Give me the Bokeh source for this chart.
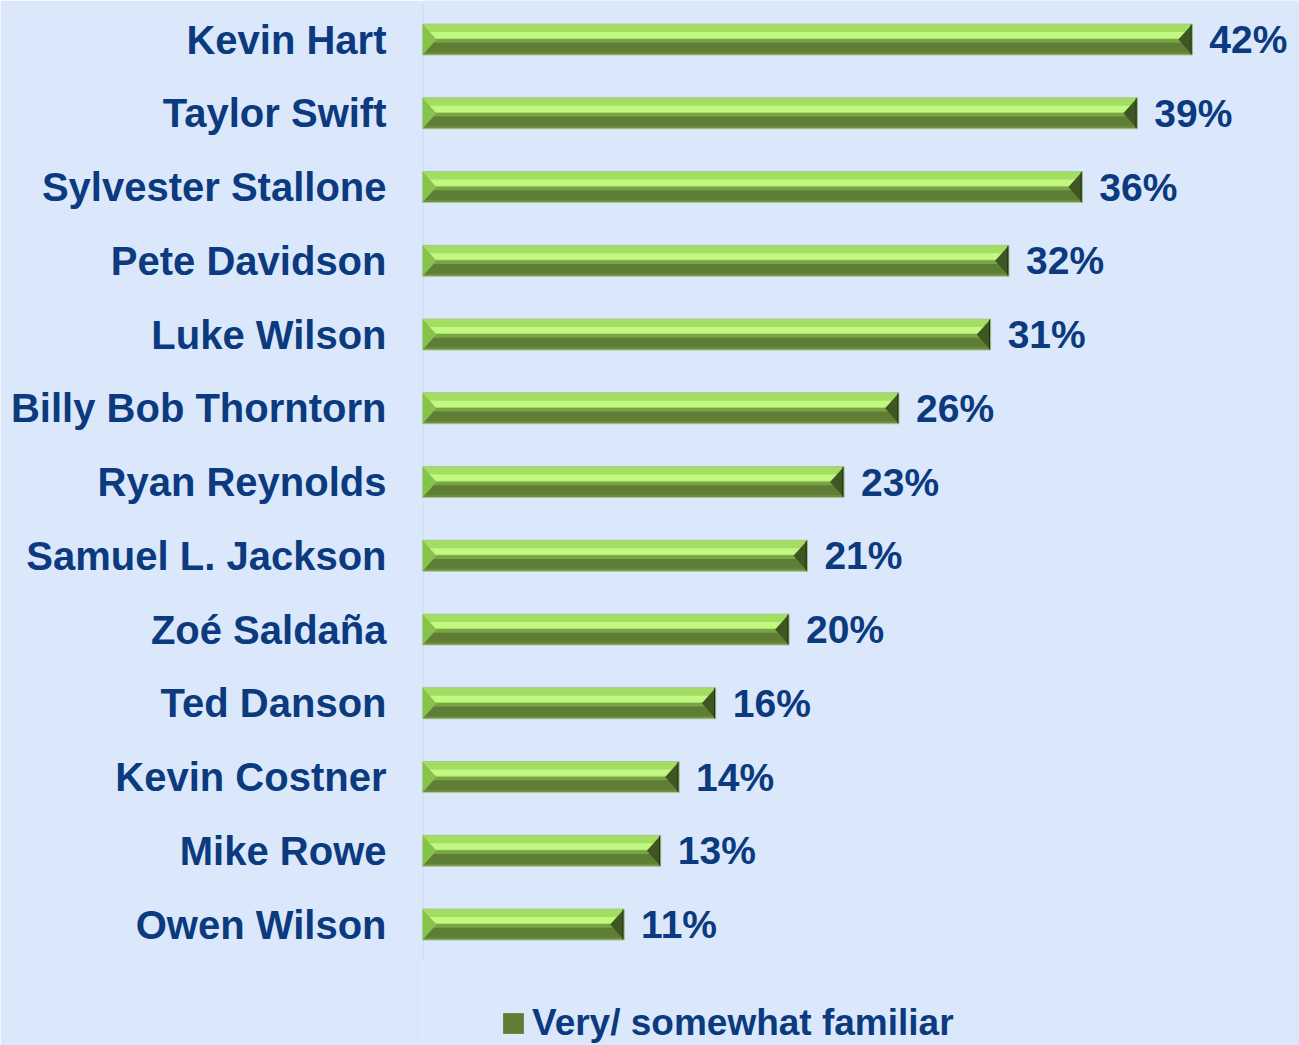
from bokeh.plotting import figure
from bokeh.models import Range1d, FixedTicker, Legend, LegendItem, ColumnDataSource
from bokeh.core.properties import value
from bokeh.embed import file_html
from bokeh.resources import INLINE

# ---- data ----
names = ["Kevin Hart", "Taylor Swift", "Sylvester Stallone", "Pete Davidson",
         "Luke Wilson", "Billy Bob Thorntorn", "Ryan Reynolds", "Samuel L. Jackson",
         "Zoé Saldaña", "Ted Danson", "Kevin Costner", "Mike Rowe", "Owen Wilson"]
familiar = [42, 39, 36, 32, 31, 26, 23, 21, 20, 16, 14, 13, 11]
series_name = "Very/ somewhat familiar"

# ---- style ----
BG = "#dbe8fc"
TEXT = "#0b3a7e"
FONT = "Liberation Sans"
BAR_H = 0.42          # bar thickness in row units
BEVEL = 0.76          # bevel width in value units
Y_TOP, Y_BOT = 12.529, -1.640
AXIS_TOP, AXIS_BOT = 12.488, -0.488

n = len(names)
ypos = [n - 1 - i for i in range(n)]
half = BAR_H / 2

src = ColumnDataSource(dict(
    y=ypos,
    v=familiar,
    y_up=[y + half / 2 for y in ypos],
    y_hi=[y + 0.06 for y in ypos],
    y_mid=[y - 0.02 for y in ypos],
    y_low=[y - half + 0.02 for y in ypos],
    lab=[f"{v}%" for v in familiar],
    edge_l=[v - 0.09 for v in familiar],
))

lx = [[0, 0, BEVEL] for v in familiar]
ly = [[y + half, y - half, y] for y in ypos]
rx = [[v, v, v - BEVEL] for v in familiar]
ry = [[y + half, y - half, y] for y in ypos]

p = figure(width=1299, height=1045,
           x_range=Range1d(0, 47.85), y_range=Range1d(Y_BOT, Y_TOP),
           output_backend="svg", toolbar_location=None,
           min_border_left=422, min_border_right=0,
           min_border_top=0, min_border_bottom=0)

p.background_fill_color = BG
p.border_fill_color = BG
p.outline_line_color = None
p.xgrid.visible = False
p.ygrid.visible = False
p.xaxis.visible = False

# axis line (stops above the legend area)
p.segment(x0=[0], y0=[AXIS_BOT], x1=[0], y1=[AXIS_TOP],
          line_color="#c6d8f0", line_width=2)

# base (dark lower part)
base = p.hbar(y="y", left=0, right="v", height=BAR_H, source=src,
              fill_color="#5e7e36", line_color=None)
# upper light half
p.hbar(y="y_up", left=0, right="v", height=half, source=src,
       fill_color="#a3de63", line_color=None)
# highlight stripe
p.hbar(y="y_hi", left=0, right="v", height=0.085, source=src,
       fill_color="#c0f882", line_color=None)
# mid transition
p.hbar(y="y_mid", left=0, right="v", height=0.045, source=src,
       fill_color="#7ba247", line_color=None)
# lower lighter edge
p.hbar(y="y_low", left=0, right="v", height=0.03, source=src,
       fill_color="#6c8f3f", line_color=None)
# bevel ends
p.patches(xs=lx, ys=ly, fill_color="#86c449", line_color=None)
p.patches(xs=rx, ys=ry, fill_color="#3e5722", line_color=None)
p.hbar(y="y", left="edge_l", right="v", height=BAR_H, source=src,
       fill_color="#1f2a0f", line_color=None)
# outline
p.hbar(y="y", left=0, right="v", height=BAR_H, source=src,
       fill_color=None, line_color="#a9cb90", line_width=1)

# value labels
p.text(x="v", y="y", text="lab", source=src, x_offset=17,
       text_align="left", text_baseline="middle",
       text_font=value(FONT), text_font_style="bold",
       text_font_size="39px", text_color=TEXT)

# category axis
ax = p.yaxis[0]
ax.ticker = FixedTicker(ticks=ypos)
ax.major_label_overrides = {y: nm for y, nm in zip(ypos, names)}
ax.axis_line_color = None
ax.major_tick_line_color = None
ax.minor_tick_line_color = None
ax.major_tick_out = 0
ax.major_tick_in = 0
ax.major_label_standoff = 36
ax.major_label_text_font = FONT
ax.major_label_text_font_style = "bold"
ax.major_label_text_font_size = "40px"
ax.major_label_text_color = TEXT

legend = Legend(items=[LegendItem(label=series_name, renderers=[base])],
                location=(78, 1), orientation="horizontal",
                glyph_width=26, glyph_height=26, label_standoff=6,
                padding=0, margin=0, spacing=0,
                background_fill_alpha=0, border_line_color=None,
                label_text_font=FONT, label_text_font_style="bold",
                label_text_font_size="37px", label_text_color=TEXT)
p.add_layout(legend)

open("out.html", "w").write(file_html(p, INLINE))
